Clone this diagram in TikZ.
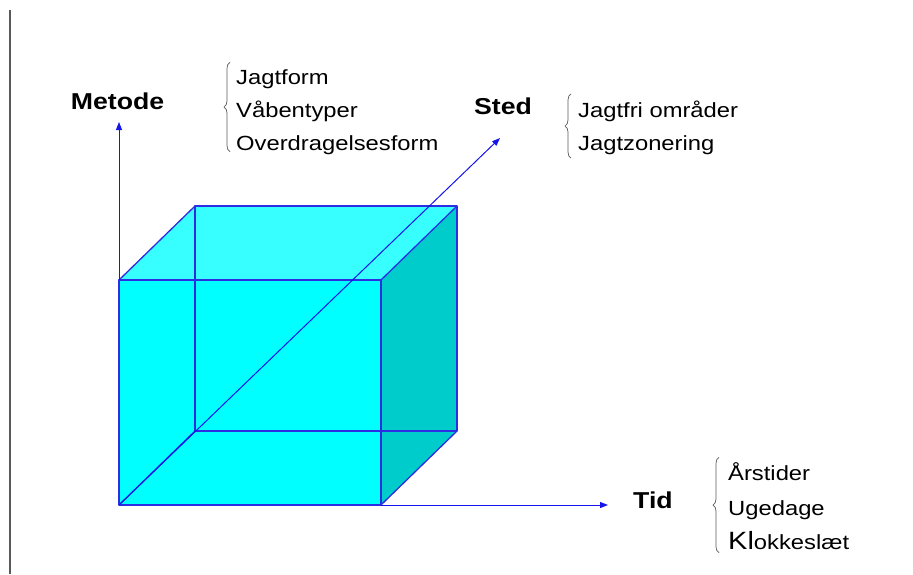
\documentclass[tikz,border=0pt]{standalone}
\usepackage{fontspec}
\setmainfont[FakeStretch=1.16]{Liberation Sans}
\usetikzlibrary{arrows.meta,decorations.pathreplacing}
\definecolor{axisblue}{RGB}{20,20,235}
\definecolor{edgeblue}{RGB}{45,45,225}
\definecolor{frontcyan}{RGB}{0,255,255}
\definecolor{topcyan}{RGB}{55,255,255}
\definecolor{sidecyan}{RGB}{0,204,204}
\definecolor{bracegray}{RGB}{90,90,90}
\tikzset{
  >={Triangle[length=8pt,width=6pt]},
  axis/.style={->,draw=axisblue,line width=1pt},
  edge/.style={draw=edgeblue,line width=1.3pt,line join=round},
  dim/.style={font=\fontsize{23}{26}\selectfont\bfseries,inner sep=0pt,anchor=base},
  items/.style={font=\fontsize{20.5}{33}\selectfont,align=left,inner sep=0pt,anchor=west},
  curly/.style={draw=bracegray,line width=0.7pt,decorate,decoration={brace,amplitude=6pt}},
}
\begin{document}
\begin{tikzpicture}[x=1pt,y=-1pt]
  \useasboundingbox (0,0) rectangle (913,574);
  \draw[gray!70!black,line width=1.5pt] (10,10) -- (10,574);
  % cube corners (front A B C D, back E F G H)
  \coordinate (A) at (119,505);
  \coordinate (B) at (381,505);
  \coordinate (C) at (381,280);
  \coordinate (D) at (119,280);
  \coordinate (E) at (195,431);
  \coordinate (F) at (457,431);
  \coordinate (G) at (457,206);
  \coordinate (H) at (195,206);
  \fill[topcyan] (D) -- (C) -- (G) -- (H) -- cycle;
  \fill[sidecyan] (B) -- (F) -- (G) -- (C) -- cycle;
  \fill[frontcyan] (A) rectangle (C);
  \draw[edge] (A) -- (B) -- (C) -- (D) -- cycle;
  \draw[edge] (E) -- (F) -- (G) -- (H) -- cycle;
  \draw[edge] (A) -- (E) (B) -- (F) (C) -- (G) (D) -- (H);
  % axes
  \coordinate (metodeTip) at (119,122);
  \coordinate (stedTip) at (500,138);
  \coordinate (tidTip) at (608,505);
  \draw[axis] (D) -- (metodeTip);
  \draw[axis] (A) -- (stedTip);
  \draw[axis] (B) -- (tidTip);
  % labels
  \node[dim] (metode) at (117.5,109) {Metode};
  \node[dim] (sted) at (503,114) {Sted};
  \node[dim] (tid) at (653,508) {Tid};
  \node[items] (metodeList) at (236,112) {Jagtform\\Våbentyper\\Overdragelsesform};
  \node[items] (stedList) at (578,128) {Jagtfri områder\\Jagtzonering};
  \node[items] (tidList) at (728,506) {Årstider\\[2pt]Ugedage\\[1pt]{\fontsize{25}{33}\selectfont Kl}okkeslæt};
  \draw[curly] ([xshift=-6pt,yshift=3pt]metodeList.south west) -- ([xshift=-6pt,yshift=7pt]metodeList.north west);
  \draw[curly] ([xshift=-7pt,yshift=-3pt]stedList.south west) -- ([xshift=-7pt,yshift=7pt]stedList.north west);
  \draw[curly] ([xshift=-9pt,yshift=-3pt]tidList.south west) -- ([xshift=-9pt,yshift=5pt]tidList.north west);
\end{tikzpicture}
\end{document}
